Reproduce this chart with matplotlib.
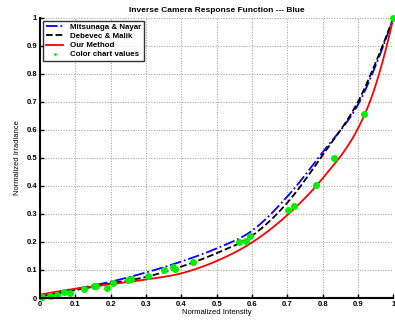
import matplotlib
matplotlib.use("Agg")
import matplotlib.pyplot as plt
import numpy as np

# curve samples (normalized intensity -> irradiance)
curve_x = [0.0, 0.1, 0.2, 0.3, 0.4, 0.5, 0.6, 0.7, 0.8, 0.9, 0.95, 1.0]
mitsunaga_y = [0.005, 0.032, 0.058, 0.091, 0.130, 0.177, 0.240, 0.362, 0.520, 0.690, 0.830, 1.0]
debevec_y = [0.005, 0.028, 0.052, 0.075, 0.112, 0.160, 0.222, 0.340, 0.510, 0.700, 0.840, 1.0]
ours_y = [0.012, 0.033, 0.049, 0.066, 0.088, 0.132, 0.198, 0.296, 0.427, 0.605, 0.760, 1.0]

# color chart measurements
chart_x = [0.007, 0.028, 0.049, 0.069, 0.085, 0.124, 0.154, 0.160, 0.190, 0.206,
           0.250, 0.257, 0.305, 0.351, 0.377, 0.382, 0.432, 0.563, 0.582, 0.595,
           0.702, 0.720, 0.782, 0.831, 0.918, 1.0]
chart_y = [0.004, 0.008, 0.012, 0.023, 0.018, 0.032, 0.042, 0.044, 0.036, 0.052,
           0.065, 0.069, 0.080, 0.100, 0.110, 0.102, 0.129, 0.200, 0.202, 0.220,
           0.314, 0.329, 0.402, 0.500, 0.657, 1.0]

ticks = np.round(np.arange(0, 1.01, 0.1), 1)
tick_labels = ["0", "0.1", "0.2", "0.3", "0.4", "0.5", "0.6", "0.7", "0.8", "0.9", "1"]

plt.rcParams["font.family"] = ["Liberation Sans", "DejaVu Sans"]
plt.rcParams["font.weight"] = "bold"

fig = plt.figure(figsize=(3.95, 3.22), dpi=100)
ax = fig.add_axes([0.101, 0.0745, 0.895, 0.871])


def smooth(xs, ys):
    # monotone piecewise-cubic through the read-off samples
    xs = np.asarray(xs); ys = np.asarray(ys)
    xx = np.linspace(0, 1, 400)
    d = np.diff(ys) / np.diff(xs)
    m = np.zeros_like(ys)
    m[1:-1] = (d[:-1] + d[1:]) / 2
    m[0] = d[0] - (m[1] - d[0])
    m[-1] = d[-1] + (d[-1] - m[-2])
    idx = np.clip(np.searchsorted(xs, xx) - 1, 0, len(xs) - 2)
    h = xs[idx + 1] - xs[idx]
    t = (xx - xs[idx]) / h
    y = ((2 * t**3 - 3 * t**2 + 1) * ys[idx] + (t**3 - 2 * t**2 + t) * h * m[idx]
         + (-2 * t**3 + 3 * t**2) * ys[idx + 1] + (t**3 - t**2) * h * m[idx + 1])
    return xx, y


ax.plot(*smooth(curve_x, mitsunaga_y), color="blue", ls="-.", lw=1.3, label="Mitsunaga & Nayar")
ax.plot(*smooth(curve_x, debevec_y), color="black", ls="--", lw=1.3, label="Debevec & Malik")
ax.plot(*smooth(curve_x, ours_y), color="red", ls="-", lw=1.3, label="Our Method")
ax.plot(chart_x, chart_y, ls="none", marker="o", color="#00ee00", ms=5, mec="none",
        label="Color chart values", clip_on=False)

ax.set_xlim(0, 1)
ax.set_ylim(0, 1)
ax.set_xticks(ticks)
ax.set_yticks(ticks)
ax.set_xticklabels(tick_labels)
ax.set_yticklabels(tick_labels)
ax.tick_params(direction="in", length=3, width=1, labelsize=5.5, pad=2)
ax.grid(True, ls=":", color="#999999", lw=0.7)
for s in ("top", "right"):
    ax.spines[s].set_visible(False)
for s in ("left", "bottom"):
    ax.spines[s].set_linewidth(1.5)

ax.set_title("Inverse Camera Response Function --- Blue", fontsize=6, fontweight="bold", pad=4)
ax.set_xlabel("Normalized Intensity", fontsize=5.5, labelpad=1, fontweight="normal")
ax.set_ylabel("Normalized Irradiance", fontsize=5.5, labelpad=4)

leg = ax.legend(loc="upper left", fontsize=5.7, frameon=True, fancybox=False,
                edgecolor="black", handlelength=2.2, borderpad=0.35, labelspacing=0.2,
                borderaxespad=0.4, markerscale=0.4)
leg.get_frame().set_linewidth(1.0)

fig.savefig("out.png", dpi=100)
